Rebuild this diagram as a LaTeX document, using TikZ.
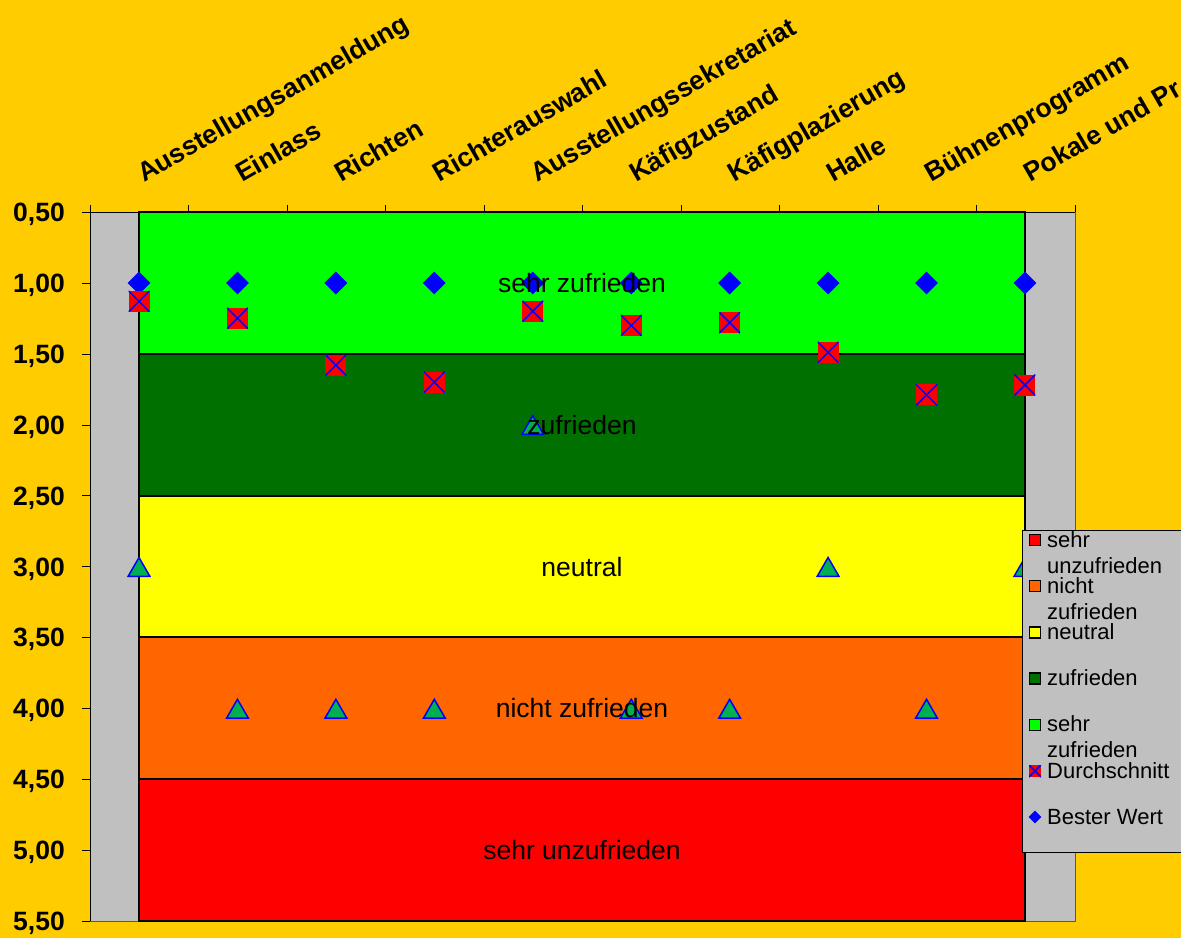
\documentclass[tikz,border=0pt]{standalone}
\usepackage{fontspec}
\setmainfont{Liberation Sans}
\usepackage{tikz}
\usetikzlibrary{shapes.geometric}

\definecolor{chartbg}{RGB}{255,204,0}
\definecolor{plotgray}{RGB}{192,192,192}
\definecolor{verygood}{RGB}{0,255,0}
\definecolor{good}{RGB}{0,112,0}
\definecolor{neutralband}{RGB}{255,255,0}
\definecolor{bad}{RGB}{255,102,0}
\definecolor{verybad}{RGB}{255,0,0}
\definecolor{worstfill}{RGB}{0,176,80}

\tikzset{
  band/.style={draw=black, line width=2pt},
  bandlabel/.style={font=\fontsize{26.5}{30}\selectfont, inner sep=0pt},
  valuelabel/.style={font=\bfseries\fontsize{26.5}{30}\selectfont, anchor=base east, inner sep=0pt},
  catlabel/.style={font=\bfseries\fontsize{26.5}{30}\selectfont, rotate=30, anchor=base west, inner sep=0pt},
  best/.style={diamond, fill=blue, minimum size=23pt, inner sep=0pt},
  average/.style={rectangle, fill=red, minimum size=#1, inner sep=0pt,
    path picture={\draw[blue, line width=1.5pt]
      (path picture bounding box.north west) -- (path picture bounding box.south east)
      (path picture bounding box.north east) -- (path picture bounding box.south west);}},
  average/.default=21pt,
  worst/.style={regular polygon, regular polygon sides=3, fill=worstfill, draw=blue,
    line width=1.5pt, minimum size=25pt, inner sep=0pt, yshift=-3.5pt},
  legtext/.style={font=\fontsize{22}{24}\selectfont, anchor=base west, inner sep=0pt},
  legkey/.style={draw=black, line width=1.5pt, minimum size=11pt, inner sep=0pt}
}

\begin{document}
\begin{tikzpicture}[x=1pt, y=-1pt]
  \useasboundingbox (0,0) rectangle (1181,938);
  \fill[chartbg] (0,0) rectangle (1181,938);

  % Plot area
  \fill[plotgray] (90,212) rectangle (1075,921);
  \draw[gray!70!black, line width=1pt] (1075,212) -- (1075,921) -- (90,921);

  % Rating bands
  \foreach \col [count=\k from 0] in {verygood, good, neutralband, bad, verybad}
    \draw[band, fill=\col] (139,{212+\k*141.8}) rectangle (1025,{353.8+\k*141.8});

  % Axes and ticks
  \draw[line width=1pt] (90,921) -- (90,212) -- (1075,212);
  \foreach \k in {0,...,10} {
    \draw (82,{212+\k*70.9}) -- (90,{212+\k*70.9});
    \draw ({90+\k*98.5},205) -- ({90+\k*98.5},212);
  }

  % Best, average and worst values
  \foreach \i in {0,...,9}
    \node[best] (best\i) at ({139+\i*98.44},283) {};
  \foreach \v [count=\i from 0] in {1.13,1.25,1.58,1.70,1.20,1.30,1.28,1.49,1.79,1.72}
    \node[average] (avg\i) at ({139+\i*98.44},{212+(\v-0.5)*141.8}) {};
  \foreach \v [count=\i from 0] in {3,4,4,4,2,4,4,3,4,3}
    \node[worst] (worst\i) at ({139+\i*98.44},{212+(\v-0.5)*141.8}) {};

  % Band names
  \foreach \lab [count=\k from 0] in {sehr zufrieden, zufrieden, neutral, nicht zufrieden, sehr unzufrieden}
    \node[bandlabel] (band\k) at (582,{283+\k*141.8}) {\lab};

  % Value axis
  \foreach \lab [count=\k from 0] in {{0,50},{1,00},{1,50},{2,00},{2,50},{3,00},{3,50},{4,00},{4,50},{5,00},{5,50}}
    \node[valuelabel] (val\k) at (65,{221.5+\k*70.9}) {\lab};

  % Categories
  \foreach \cat [count=\i from 0] in {Ausstellungsanmeldung, Einlass, Richten, Richterauswahl,
      Ausstellungssekretariat, Käfigzustand, Käfigplazierung, Halle, Bühnenprogramm, Pokale und Pr}
    \node[catlabel] (cat\i) at ({144+\i*98.44},183) {\cat};

  % Legend
  \fill[plotgray] (1022,530) rectangle (1181,852);
  \draw (1181,530) -- (1022,530) -- (1022,852) -- (1181,852);
  \foreach \col/\la/\lb [count=\i from 0] in {verybad/sehr/unzufrieden, bad/nicht/zufrieden,
      neutralband/neutral/{}, good/zufrieden/{}, verygood/sehr/zufrieden} {
    \node[legkey, fill=\col] (key\i) at (1035,{540+\i*46.2}) {};
    \node[legtext] (leg\i) at (1047,{547+\i*46.2}) {\la};
    \node[legtext] (legb\i) at (1047,{573+\i*46.2}) {\lb};
  }
  \node[average=12pt] (keyavg) at (1035,771) {};
  \node[legtext] (legavg) at (1047,778) {Durchschnitt};
  \node[best, minimum size=13pt] (keybest) at (1035,817) {};
  \node[legtext] (legbest) at (1047,824) {Bester Wert};
\end{tikzpicture}
\end{document}
